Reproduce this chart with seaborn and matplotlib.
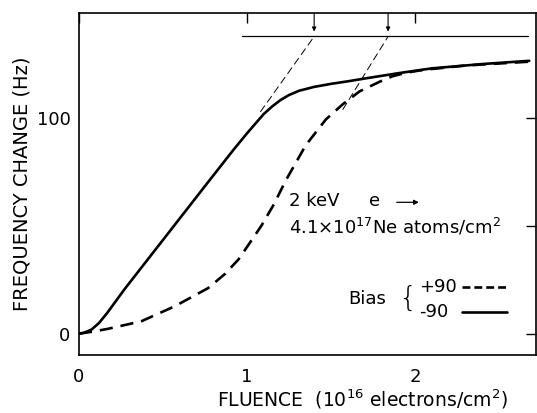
import matplotlib
matplotlib.use("Agg")
import matplotlib.pyplot as plt
import seaborn as sns
import pandas as pd

# Bias -90 (solid)
neg_x = [0.0, 0.03, 0.075, 0.12, 0.17, 0.27, 0.37, 0.57, 0.77, 0.916, 1.0,
         1.05, 1.10, 1.15, 1.20, 1.25, 1.31, 1.40, 1.50, 1.61, 1.71, 1.905, 2.10, 2.4, 2.68]
neg_y = [0.0, 0.4, 1.9, 5.0, 9.8, 20.5, 30.5, 50.5, 70.5, 85.0, 93.0,
         97.5, 102.0, 105.5, 108.5, 110.8, 112.8, 114.6, 116.0, 117.3, 118.6, 121.0, 123.2, 125.2, 126.7]
# Bias +90 (dashed)
pos_x = [0.0, 0.08, 0.17, 0.37, 0.57, 0.77, 0.87, 0.95, 1.02, 1.085, 1.16, 1.23,
         1.35, 1.47, 1.57, 1.67, 1.79, 1.865, 1.95, 2.05, 2.3, 2.68]
pos_y = [0.0, 0.9, 2.2, 5.7, 12.7, 21.2, 27.8, 34.5, 42.5, 50.0, 60.0, 71.0,
         87.5, 99.5, 106.5, 112.5, 117.0, 119.5, 121.2, 122.5, 124.5, 126.3]

sat_level = 138
sat_x = [0.97, 2.67]
tangent1_x = [1.08, 1.40]
tangent1_y = [103, 138]
tangent2_x = [1.57, 1.84]
tangent2_y = [104, 138]

sns.set_theme(style="white")
plt.rcParams['font.family'] = ['DejaVu Sans']
plt.rcParams['text.color'] = 'black'
plt.rcParams['axes.labelcolor'] = 'black'

fig = plt.figure(figsize=(5.37, 4.13), dpi=100)
ax = fig.add_axes([0.147, 0.140, 0.851, 0.829])

df_neg = pd.DataFrame({"x": neg_x, "y": neg_y})
df_pos = pd.DataFrame({"x": pos_x, "y": pos_y})
sns.lineplot(data=df_neg, x="x", y="y", ax=ax, color="black", lw=1.9, sort=False)
sns.lineplot(data=df_pos, x="x", y="y", ax=ax, color="black", lw=1.9, sort=False,
             linestyle=(0, (5, 3)))

ax.plot(sat_x, [sat_level, sat_level], color="black", lw=0.9)
ax.plot(tangent1_x, tangent1_y, color="black", lw=0.7, linestyle=(0, (8, 4)))
ax.plot(tangent2_x, tangent2_y, color="black", lw=0.7, linestyle=(0, (8, 4)))
for xa in [1.40, 1.84]:
    ax.annotate("", xy=(xa, sat_level + 1), xytext=(xa, sat_level + 12),
                arrowprops=dict(arrowstyle="-|>", color="black", lw=0.8,
                                mutation_scale=6))

fs = 13
ax.text(1.25, 61.5, "2 keV", fontsize=fs, va="center", ha="left")
ax.text(1.725, 61.5, "e", fontsize=fs, va="center", ha="left")
ax.annotate("", xy=(2.04, 61.0), xytext=(1.875, 61.0),
            arrowprops=dict(arrowstyle="-|>", color="black", lw=0.9, mutation_scale=7))
ax.text(1.25, 49.5, "4.1$\\times$10$^{17}$Ne atoms/cm$^2$", fontsize=fs, va="center", ha="left")
ax.text(1.60, 16, "Bias", fontsize=fs, va="center", ha="left")
ax.text(1.90, 16.0, "{", fontsize=21, va="center", ha="left", fontweight="ultralight")
ax.text(2.025, 21.5, "+90", fontsize=fs, va="center", ha="left")
ax.text(2.025, 10, "-90", fontsize=fs, va="center", ha="left")
ax.plot([2.28, 2.55], [21.5, 21.5], color="black", lw=1.9, linestyle=(0, (3, 1.5)))
ax.plot([2.28, 2.55], [10, 10], color="black", lw=1.9)

ax.set_xlim(0, 2.72)
ax.set_ylim(-10, 149)
ax.set_xticks([0, 1, 2])
ax.set_xticklabels(["0", "1", "2"])
ax.set_yticks([0, 50, 100])
ax.set_yticklabels(["0", "", "100"])
ax.tick_params(direction="in", length=7, width=1, top=True, right=True,
               labelsize=13, pad=6, colors="black")
ax.tick_params(axis="x", pad=9)
ax.set_xlabel("FLUENCE  (10$^{16}$ electrons/cm$^2$)", fontsize=13.5)
ax.xaxis.set_label_coords(0.62, -0.095)
ax.set_ylabel("FREQUENCY CHANGE (Hz)", fontsize=14, labelpad=4)
for s in ax.spines.values():
    s.set_color("black")
    s.set_linewidth(1.2)

fig.savefig("out.png", dpi=100)
